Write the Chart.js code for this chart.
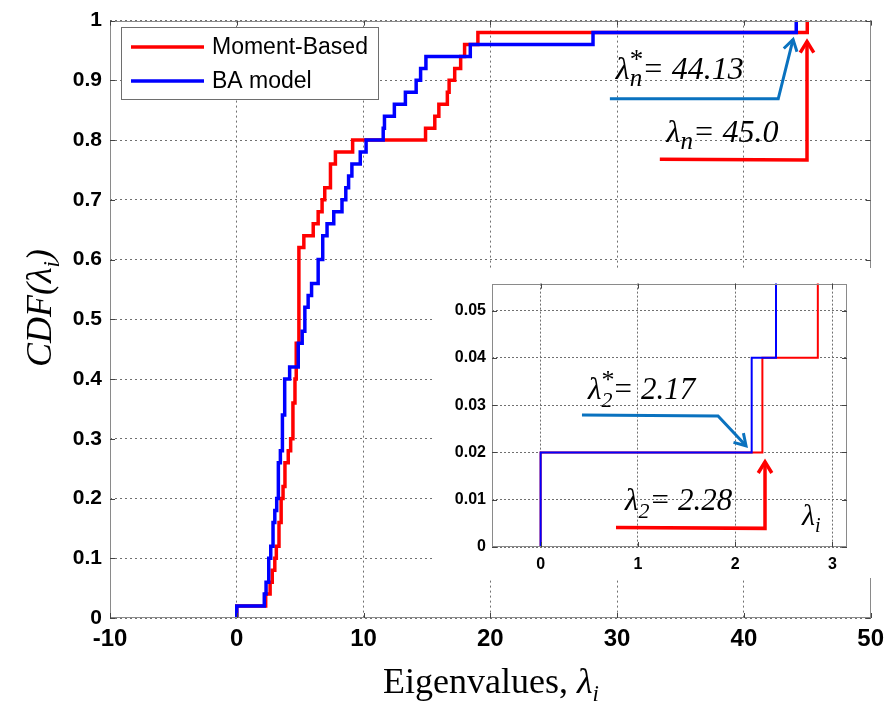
<!DOCTYPE html>
<html><head><meta charset="utf-8">
<script src="https://cdn.jsdelivr.net/npm/chart.js@4.4.0/dist/chart.umd.min.js"></script>
<style>
html,body{margin:0;padding:0;background:#fff;}
#wrap{position:relative;width:891px;height:705px;overflow:hidden;}
#main{position:absolute;left:0;top:0;}
#inset{position:absolute;left:435px;top:268px;}
</style></head><body>
<div id="wrap"><canvas id="main" width="891" height="705"></canvas><canvas id="inset" width="437" height="310"></canvas></div>
<script>
// ---------------- data ----------------
const seriesLabels = ['Moment-Based', 'BA model'];
const momentX   = [0, 0, 2.28, 2.63, 2.8, 3.0, 3.12, 3.33, 3.5, 3.65, 3.8, 4.06, 4.25, 4.43, 4.59, 4.69, 4.9, 5.29, 6.03, 6.42, 6.73, 6.94, 7.39, 7.78, 9.14, 14.89, 15.62, 15.94, 16.61, 16.75, 17.19, 17.66, 17.97, 19.02, 45.0];
const momentCdf = [0, 0.02, 0.04, 0.06, 0.08, 0.10, 0.12, 0.16, 0.20, 0.22, 0.26, 0.28, 0.30, 0.36, 0.40, 0.46, 0.62, 0.64, 0.66, 0.68, 0.70, 0.72, 0.76, 0.78, 0.80, 0.82, 0.84, 0.86, 0.88, 0.90, 0.92, 0.94, 0.96, 0.98, 1.0];
const baX   = [0, 0, 2.17, 2.31, 2.52, 2.68, 2.86, 3.0, 3.15, 3.28, 3.44, 3.6, 3.78, 4.17, 4.85, 5.16, 5.37, 5.63, 5.9, 6.42, 6.78, 7.12, 7.65, 8.3, 8.6, 8.82, 9.08, 9.74, 10.2, 11.55, 11.65, 12.43, 13.3, 14.15, 14.5, 14.92, 18.42, 28.1, 44.13];
const baCdf = [0, 0.02, 0.04, 0.06, 0.10, 0.12, 0.16, 0.18, 0.20, 0.26, 0.28, 0.34, 0.40, 0.42, 0.46, 0.48, 0.52, 0.54, 0.56, 0.60, 0.64, 0.66, 0.68, 0.70, 0.72, 0.74, 0.76, 0.78, 0.80, 0.82, 0.84, 0.86, 0.88, 0.90, 0.92, 0.94, 0.96, 0.98, 1.0];
const xTickLabels = ['-10', '0', '10', '20', '30', '40', '50'];
const yTickLabels = ['0', '0.1', '0.2', '0.3', '0.4', '0.5', '0.6', '0.7', '0.8', '0.9', '1'];

// inset (zoom on the first eigenvalues)
const insetMomentX   = [0, 0, 2.28, 2.85];
const insetMomentCdf = [0, 0.02, 0.04, 0.06];
const insetBaX   = [0, 0, 2.17, 2.42];
const insetBaCdf = [0, 0.02, 0.04, 0.06];
const insetXTickLabels = ['0', '1', '2', '3'];
const insetYTickLabels = ['0', '0.01', '0.02', '0.03', '0.04', '0.05'];

// ---------------- helpers ----------------
const SERIF = "'Liberation Serif','Times New Roman',serif";
const SANS = "'Liberation Sans',Arial,sans-serif";
const RED = '#ff0000', BLUE = '#0000ff', ARROW_BLUE = '#0a72bf';
const pts = (xs, ys) => xs.map((x, i) => ({x: x, y: ys[i]}));
const labelFrom = (arr) => (v) => { const i = arr.findIndex(s => Math.abs(parseFloat(s) - v) < 1e-9); return i >= 0 ? arr[i] : ''; };

function richText(ctx, x, y, segs, align) {
  // segs: [text, font, dy, noAdvance]
  let w = 0;
  segs.forEach(s => { if (!s[3]) { ctx.font = s[1]; w += ctx.measureText(s[0]).width; } });
  let cx = align === 'center' ? x - w / 2 : x;
  ctx.textAlign = 'left'; ctx.textBaseline = 'alphabetic';
  segs.forEach(s => {
    ctx.font = s[1];
    ctx.fillText(s[0], cx, y + (s[2] || 0));
    if (!s[3]) cx += ctx.measureText(s[0]).width;
  });
}
function arrow(ctx, p, color, lw) {
  ctx.save();
  ctx.strokeStyle = color; ctx.lineWidth = lw; ctx.lineJoin = 'miter'; ctx.lineCap = 'butt';
  ctx.beginPath(); ctx.moveTo(p[0][0], p[0][1]);
  for (let i = 1; i < p.length; i++) ctx.lineTo(p[i][0], p[i][1]);
  ctx.stroke();
  const a = p[p.length - 1], b = p[p.length - 2];
  const ang = Math.atan2(a[1] - b[1], a[0] - b[0]);
  const L = 13, s = 0.55;
  ctx.beginPath();
  ctx.moveTo(a[0] - L * Math.cos(ang - s), a[1] - L * Math.sin(ang - s));
  ctx.lineTo(a[0], a[1]);
  ctx.lineTo(a[0] - L * Math.cos(ang + s), a[1] - L * Math.sin(ang + s));
  ctx.stroke();
  ctx.restore();
}
function frame(chart, color) {
  const {ctx, chartArea: c, scales} = chart;
  ctx.save();
  ctx.strokeStyle = color; ctx.lineWidth = 1;
  ctx.strokeRect(Math.round(c.left) + 0.5, Math.round(c.top) + 0.5, Math.round(c.right - c.left) - 1, Math.round(c.bottom - c.top) - 1);
  ctx.strokeStyle = '#444';
  const T = 5;
  ctx.beginPath();
  scales.x.ticks.forEach(t => { const px = Math.round(scales.x.getPixelForValue(t.value)) + 0.5;
    ctx.moveTo(px, c.bottom); ctx.lineTo(px, c.bottom - T); ctx.moveTo(px, c.top); ctx.lineTo(px, c.top + T); });
  scales.y.ticks.forEach(t => { const py = Math.round(scales.y.getPixelForValue(t.value)) + 0.5;
    ctx.moveTo(c.left, py); ctx.lineTo(c.left + T, py); ctx.moveTo(c.right, py); ctx.lineTo(c.right - T, py); });
  ctx.stroke();
  ctx.restore();
}

// ---------------- annotations (in data coordinates) ----------------
const mainNotes = {
  blueText: {x: 29.9, y: 0.9023},
  redText:  {x: 33.9, y: 0.7964},
  blueArrow: [[29.43, 0.869], [42.71, 0.869], [43.88, 0.9685]],
  redArrow:  [[33.37, 0.768], [44.98, 0.7666], [44.98, 0.965]]
};
const insetNotes = {
  blueText: {x: 0.487, y: 0.0313},
  redText:  {x: 0.867, y: 0.00773},
  axisText: {x: 2.688, y: 0.00457},
  blueArrow: [[0.425, 0.0279], [1.824, 0.0277], [2.112, 0.0214]],
  redArrow:  [[0.775, 0.00415], [2.307, 0.00394], [2.307, 0.0180]]
};
const toPx = (chart, p) => [chart.scales.x.getPixelForValue(p[0]), chart.scales.y.getPixelForValue(p[1])];

// ---------------- main chart ----------------
const mainPlugin = {
  id: 'mainDecor',
  afterDatasetsDraw(chart) {
    const ctx = chart.ctx;
    frame(chart, '#8a8a8a');
    // legend
    ctx.save();
    ctx.fillStyle = '#fff'; ctx.fillRect(121, 27, 258, 73);
    ctx.strokeStyle = '#6e6e6e'; ctx.lineWidth = 1; ctx.strokeRect(121.5, 27.5, 257, 72);
    const rows = [[seriesLabels[0], RED, 47], [seriesLabels[1], BLUE, 81]];
    rows.forEach(r => {
      ctx.strokeStyle = r[1]; ctx.lineWidth = 3.5;
      ctx.beginPath(); ctx.moveTo(131, r[2]); ctx.lineTo(204, r[2]); ctx.stroke();
      ctx.fillStyle = '#000'; ctx.font = '23px ' + SANS; ctx.textBaseline = 'middle'; ctx.textAlign = 'left';
      ctx.fillText(r[0], 212, r[2] + 1);
    });
    ctx.restore();
    // titles
    ctx.save(); ctx.fillStyle = '#000';
    richText(ctx, 491, 693, [['Eigenvalues, ', '36px ' + SERIF], ['\u03bb', 'italic 36px ' + SERIF], ['i', 'italic 23px ' + SERIF, 8]], 'center');
    ctx.translate(51, 308); ctx.rotate(-Math.PI / 2);
    richText(ctx, 0, 0, [['CDF(', 'italic 36px ' + SERIF], ['\u03bb', 'italic 36px ' + SERIF], ['i', 'italic 23px ' + SERIF, 8], [')', 'italic 36px ' + SERIF]], 'center');
    ctx.restore();
    // annotations
    arrow(ctx, mainNotes.blueArrow.map(p => toPx(chart, p)), ARROW_BLUE, 3);
    arrow(ctx, mainNotes.redArrow.map(p => toPx(chart, p)), RED, 3.5);
    ctx.save(); ctx.fillStyle = '#000';
    let b = toPx(chart, [mainNotes.blueText.x, mainNotes.blueText.y]);
    richText(ctx, b[0], b[1], [['\u03bb', 'italic 32px ' + SERIF], ['*', '27px ' + SERIF, -11, true], ['n', 'italic 25px ' + SERIF, 7], ['= 44.13', 'italic 32px ' + SERIF]]);
    let r = toPx(chart, [mainNotes.redText.x, mainNotes.redText.y]);
    richText(ctx, r[0], r[1], [['\u03bb', 'italic 32px ' + SERIF], ['n', 'italic 25px ' + SERIF, 7], ['= 45.0', 'italic 32px ' + SERIF]]);
    ctx.restore();
  }
};

new Chart(document.getElementById('main'), {
  type: 'line',
  data: {
    datasets: [
      {label: seriesLabels[1], data: pts(baX, baCdf), borderColor: BLUE, borderWidth: 3.5, stepped: 'before', pointRadius: 0, fill: false, borderJoinStyle: 'miter'},
      {label: seriesLabels[0], data: pts(momentX, momentCdf), borderColor: RED, borderWidth: 3.5, stepped: 'before', pointRadius: 0, fill: false, borderJoinStyle: 'miter'}
    ]
  },
  options: {
    responsive: false, animation: false, devicePixelRatio: 1,
    layout: {padding: {top: 14, right: 16, left: 0, bottom: 0}},
    plugins: {legend: {display: false}, tooltip: {enabled: false}},
    scales: {
      x: {
        type: 'linear', min: -10, max: 50,
        ticks: {stepSize: 10, padding: 7, color: '#000', font: {family: SANS, size: 24, weight: 'bold'}, callback: labelFrom(xTickLabels), maxRotation: 0},
        grid: {color: '#707070', lineWidth: 1, drawTicks: false},
        border: {display: false, dash: [2, 3]},
        afterFit(s) { s.height = 87; }
      },
      y: {
        type: 'linear', min: 0, max: 1,
        ticks: {stepSize: 0.1, padding: 8, color: '#000', font: {family: SANS, size: 21, weight: 'bold'}, callback: labelFrom(yTickLabels)},
        grid: {color: '#707070', lineWidth: 1, drawTicks: false},
        border: {display: false, dash: [2, 3]},
        afterFit(s) { s.width = 110; }
      }
    }
  },
  plugins: [mainPlugin]
});

// ---------------- inset chart ----------------
const insetPlugin = {
  id: 'insetDecor',
  beforeDraw(chart) { const c = chart.ctx; c.save(); c.fillStyle = '#fff'; c.fillRect(0, 0, chart.width, chart.height); c.restore(); },
  afterDatasetsDraw(chart) {
    const ctx = chart.ctx;
    frame(chart, '#8a8a8a');
    arrow(ctx, insetNotes.blueArrow.map(p => toPx(chart, p)), ARROW_BLUE, 3);
    arrow(ctx, insetNotes.redArrow.map(p => toPx(chart, p)), RED, 3.5);
    ctx.save(); ctx.fillStyle = '#000';
    let b = toPx(chart, [insetNotes.blueText.x, insetNotes.blueText.y]);
    richText(ctx, b[0], b[1], [['\u03bb', 'italic 31px ' + SERIF], ['*', '26px ' + SERIF, -11, true], ['2', 'italic 22px ' + SERIF, 8], ['= 2.17', 'italic 31px ' + SERIF]]);
    let r = toPx(chart, [insetNotes.redText.x, insetNotes.redText.y]);
    richText(ctx, r[0], r[1], [['\u03bb', 'italic 31px ' + SERIF], ['2', 'italic 22px ' + SERIF, 8], ['= 2.28', 'italic 31px ' + SERIF]]);
    let a = toPx(chart, [insetNotes.axisText.x, insetNotes.axisText.y]);
    richText(ctx, a[0], a[1], [['\u03bb', 'italic 30px ' + SERIF], ['i', 'italic 20px ' + SERIF, 7]]);
    ctx.restore();
  }
};

new Chart(document.getElementById('inset'), {
  type: 'line',
  data: {
    datasets: [
      {label: seriesLabels[1], data: pts(insetBaX, insetBaCdf), borderColor: BLUE, borderWidth: 2, stepped: 'before', pointRadius: 0, fill: false},
      {label: seriesLabels[0], data: pts(insetMomentX, insetMomentCdf), borderColor: RED, borderWidth: 2, stepped: 'before', pointRadius: 0, fill: false}
    ]
  },
  options: {
    responsive: false, animation: false, devicePixelRatio: 1,
    layout: {padding: {top: 14, right: 25, left: 0, bottom: 0}},
    plugins: {legend: {display: false}, tooltip: {enabled: false}},
    scales: {
      x: {
        type: 'linear', min: -0.5, max: 3.15,
        ticks: {stepSize: 1, includeBounds: false, padding: 8, color: '#000', font: {family: SANS, size: 16, weight: 'bold'}, callback: labelFrom(insetXTickLabels), maxRotation: 0},
        grid: {color: '#707070', lineWidth: 1, drawTicks: false},
        border: {display: false, dash: [2, 2]},
        afterFit(s) { s.height = 31; }
      },
      y: {
        type: 'linear', min: 0, max: 0.0557,
        ticks: {stepSize: 0.01, includeBounds: false, padding: 6, color: '#000', font: {family: SANS, size: 16, weight: 'bold'}, callback: labelFrom(insetYTickLabels)},
        grid: {color: '#707070', lineWidth: 1, drawTicks: false},
        border: {display: false, dash: [2, 2]},
        afterFit(s) { s.width = 57; }
      }
    }
  },
  plugins: [insetPlugin]
});
</script>
</body></html>
